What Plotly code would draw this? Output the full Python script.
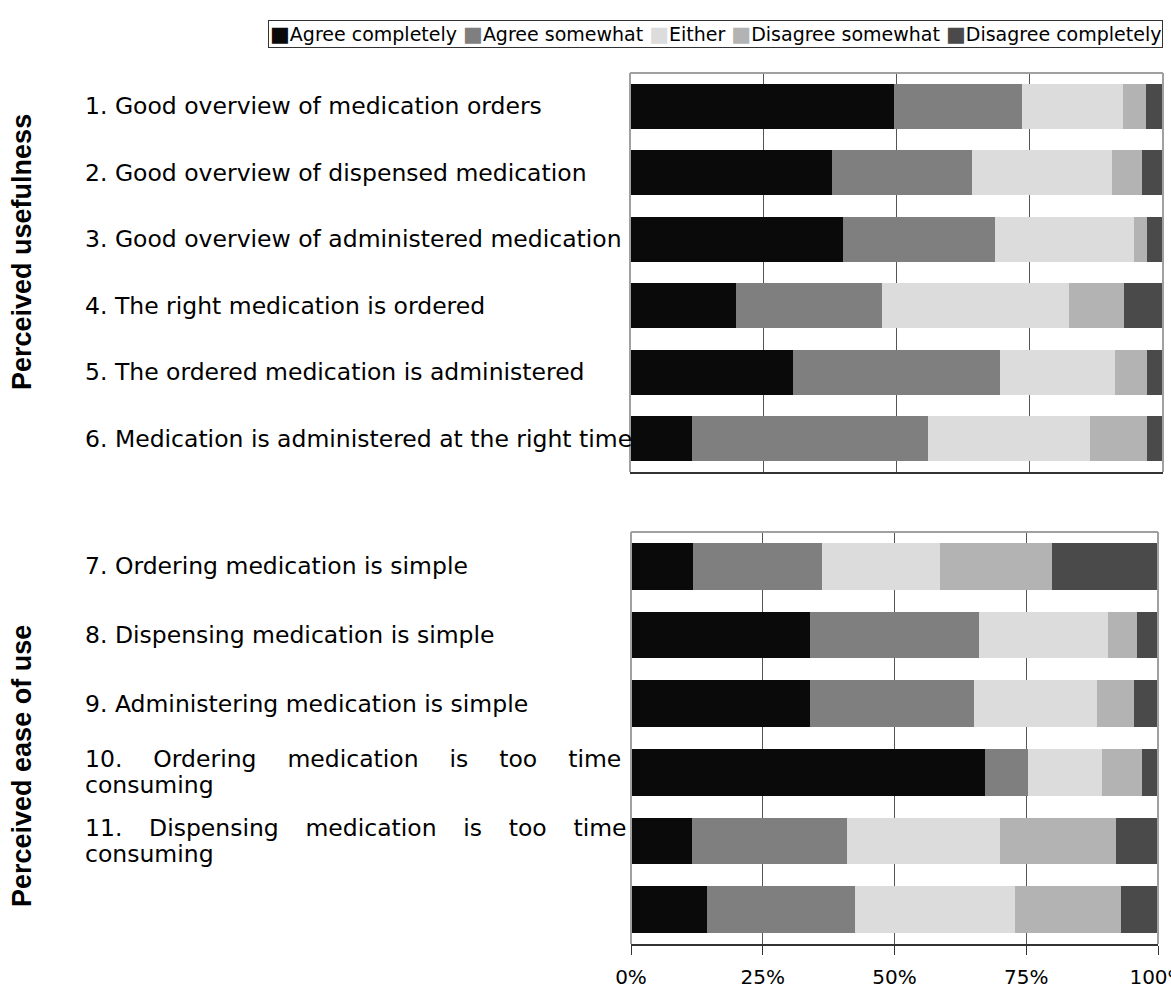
import plotly.graph_objects as go

W, H = 1171, 990

# Response categories and their fills
SERIES = ["Agree completely", "Agree somewhat", "Either",
          "Disagree somewhat", "Disagree completely"]
COLORS = ["#0a0a0a", "#7f7f7f", "#dcdcdc", "#b3b3b3", "#4a4a4a"]

# Perceived usefulness items (percent of respondents)
USEFULNESS_LABELS = [
    "1. Good overview of medication orders",
    "2. Good overview of dispensed medication",
    "3. Good overview of administered medication",
    "4. The right medication is ordered",
    "5. The ordered medication is administered",
    "6. Medication is administered at the right time",
]
use_agree_completely = [49.6, 37.9, 40.0, 19.8, 30.5, 11.6]
use_agree_somewhat = [23.9, 26.3, 28.5, 27.5, 39.0, 44.3]
use_either = [19.0, 26.3, 26.0, 35.0, 21.4, 30.4]
use_disagree_somewhat = [4.3, 5.5, 2.5, 10.3, 6.1, 10.7]
use_disagree_completely = [3.2, 4.0, 3.0, 7.4, 3.0, 3.0]

# Perceived ease of use items (percent of respondents)
EASE_LABELS = [
    "7. Ordering medication is simple",
    "8. Dispensing medication is simple",
    "9. Administering medication is simple",
    "10. Ordering medication is too time|consuming",
    "11. Dispensing medication is too time|consuming",
    "",
]
ease_agree_completely = [11.7, 33.9, 33.9, 67.2, 11.5, 14.5]
ease_agree_somewhat = [24.5, 32.1, 31.1, 8.1, 29.4, 28.0]
ease_either = [22.4, 24.5, 23.4, 14.1, 29.1, 30.3]
ease_disagree_somewhat = [21.2, 5.5, 7.1, 7.5, 22.0, 20.2]
ease_disagree_completely = [20.2, 4.0, 4.5, 3.1, 8.0, 7.0]

X_TICKS = [0, 25, 50, 75, 100]
X_TICK_TEXT = ["0%", "25%", "50%", "75%", "100%"]

LABEL_FONT = dict(family="DejaVu Sans", size=23.5, color="#000000")
TITLE_FONT = dict(family="Liberation Sans", size=27, color="#000000")
GRID = "#555555"
FRAME = "#a0a0a0"
AXIS = "#333333"

# word gap used when a wrapped first line is stretched to the full label width
JUSTIFY_GAP = {
    "10.": "\u2003\u00a0",
    "11.": "\u2002\u00a0\u00a0",
}

fig = go.Figure()


def add_panel(series_values, xa, ya):
    for name, color, vals in zip(SERIES, COLORS, series_values):
        fig.add_trace(go.Bar(
            x=vals, y=list(range(len(vals))), orientation="h",
            name=name, marker=dict(color=color, line=dict(width=0)),
            xaxis=xa, yaxis=ya, showlegend=False,
            hovertemplate="%{x:.1f}%<extra>" + name + "</extra>",
        ))


add_panel([use_agree_completely, use_agree_somewhat, use_either,
           use_disagree_somewhat, use_disagree_completely], "x", "y")
add_panel([ease_agree_completely, ease_agree_somewhat, ease_either,
           ease_disagree_somewhat, ease_disagree_completely], "x2", "y2")


def px_x(p):
    return p / W


def px_y(p):
    return 1 - p / H


annotations = []


def add_labels(labels, yref):
    for i, label in enumerate(labels):
        if not label:
            continue
        lines = label.split("|")
        if len(lines) == 1:
            offsets = [0]
        else:
            words = lines[0].split(" ")
            gap = JUSTIFY_GAP.get(words[0], "\u00a0")
            lines[0] = gap.join(words)
            offsets = [13, -13]
        for line, dy in zip(lines, offsets):
            annotations.append(dict(
                text=line, xref="paper", yref=yref, x=px_x(83), y=i,
                xanchor="left", yanchor="middle", yshift=dy, align="left",
                showarrow=False, font=LABEL_FONT,
            ))


add_labels(USEFULNESS_LABELS, "y")
add_labels(EASE_LABELS, "y2")

# Group titles
annotations.append(dict(
    text="<b>Perceived usefulness</b>", xref="paper", yref="paper",
    x=px_x(22), y=px_y(252), xanchor="center", yanchor="middle",
    textangle=-90, showarrow=False, font=TITLE_FONT,
))
annotations.append(dict(
    text="<b>Perceived ease of use</b>", xref="paper", yref="paper",
    x=px_x(22), y=px_y(766), xanchor="center", yanchor="middle",
    textangle=-90, showarrow=False, font=TITLE_FONT,
))

# Legend strip
legend_text = " ".join(
    f"<span style='color:{c};font-size:21px'>\u25a0</span>{n}"
    for n, c in zip(SERIES, COLORS)
)
annotations.append(dict(
    text=legend_text, xref="paper", yref="paper",
    x=px_x(1163), y=px_y(20), xanchor="right", yanchor="top",
    showarrow=False, bordercolor="#333333", borderwidth=1, borderpad=1,
    bgcolor="#ffffff",
    font=dict(family="DejaVu Sans", size=19, color="#000000"),
))

# Plot-area frame: left, top and right edges (bottom edge is the axis line)
shapes = []
for xr, yr in (("x domain", "y domain"), ("x2 domain", "y2 domain")):
    for x0, y0, x1, y1 in ((0, 0, 0, 1), (0, 1, 1, 1), (1, 0, 1, 1)):
        shapes.append(dict(type="line", xref=xr, yref=yr, x0=x0, y0=y0,
                           x1=x1, y1=y1, line=dict(color=FRAME, width=2),
                           layer="above"))

fig.update_layout(
    width=W, height=H, autosize=False,
    margin=dict(l=0, r=0, t=0, b=0, pad=0, autoexpand=False),
    paper_bgcolor="#ffffff", plot_bgcolor="#ffffff",
    barmode="stack", bargap=0.316,
    showlegend=False,
    annotations=annotations,
    shapes=shapes,
    xaxis=dict(
        domain=[px_x(630), px_x(1163)], anchor="y", range=[0, 100],
        tickvals=[25, 50, 75], showticklabels=False, ticks="",
        showgrid=True, gridcolor=GRID, gridwidth=1, zeroline=False,
        showline=True, linecolor=AXIS, linewidth=2, fixedrange=True,
        automargin=False,
    ),
    yaxis=dict(
        domain=[px_y(472), px_y(73)], anchor="x", range=[5.5, -0.5],
        showticklabels=False, showgrid=False, zeroline=False,
        showline=False, fixedrange=True, automargin=False,
    ),
    xaxis2=dict(
        domain=[px_x(631), px_x(1158)], anchor="y2", range=[0, 100],
        tickvals=X_TICKS, ticktext=X_TICK_TEXT,
        ticks="outside", ticklen=9, tickcolor=AXIS, tickwidth=1,
        ticklabelstandoff=5, ticklabeloverflow="allow",
        tickfont=dict(family="DejaVu Sans", size=20, color="#000000"),
        showgrid=True, gridcolor=GRID, gridwidth=1, zeroline=False,
        showline=True, linecolor=AXIS, linewidth=2, fixedrange=True,
        automargin=False,
    ),
    yaxis2=dict(
        domain=[px_y(944), px_y(532)], anchor="x2", range=[5.5, -0.5],
        showticklabels=False, showgrid=False, zeroline=False,
        showline=False, fixedrange=True, automargin=False,
    ),
)

fig.write_html("out.html")
